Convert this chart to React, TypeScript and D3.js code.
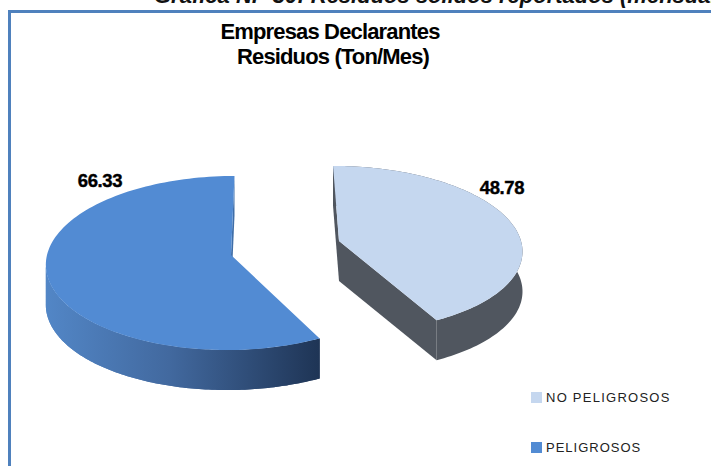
import React from "react";
import * as d3 from "d3";

const categories = ["PELIGROSOS", "NO PELIGROSOS"];
const values = [66.33, 48.78];
const valueLabels = ["66.33", "48.78"];
const titleLines = ["Empresas Declarantes", "Residuos (Ton/Mes)"];
const heading = "Gráfica N.° 30: Residuos sólidos reportados (mensual)";

const W = 711, H = 466, K = 0.092, DEPTH = 40;

type Sl = { cx: number; cy: number; rx: number; ry: number; sx: number; a0: number; a1: number };

function project(s: Sl, t: number, r = 1): [number, number] {
  const u = Math.sin(t) * r, v = -Math.cos(t) * r;
  const w = 1 / (1 - K * v);
  return [s.cx + (s.rx * u + s.sx * v) * w, s.cy + s.ry * v * w];
}
function arcPoints(s: Sl, a0: number, a1: number) {
  return d3.range(0, 121).map((i) => project(s, a0 + ((a1 - a0) * i) / 120));
}
const line = d3.line<[number, number]>().x((d) => d[0]).y((d) => d[1]);
const down = (p: [number, number]): [number, number] => [p[0], p[1] + DEPTH];

export default function App() {
  const total = d3.sum(values);
  const angle = d3.scaleLinear().domain([0, total]).range([0, 2 * Math.PI]);
  const blueAngle = angle(values[0]);
  const lightAngle = angle(values[1]);

  const blue: Sl = { cx: 231, cy: 255, rx: 184, ry: 86.3, sx: -3.8, a0: -blueAngle, a1: 0 };
  const light: Sl = { cx: 339, cy: 241, rx: 182, ry: 82, sx: 6.5, a0: 0, a1: lightAngle };

  const blueArc = arcPoints(blue, blue.a0, blue.a1);
  const lightArc = arcPoints(light, light.a0, light.a1);
  const blueTip = project(blue, 0, 0);
  const lightTip = project(light, 0, 0);

  const face = (arc: [number, number][], tip: [number, number]) => line([...arc, tip])! + "Z";
  const wall = (pts: [number, number][]) => line([...pts, ...pts.map(down).reverse()])! + "Z";

  const blueOuter = arcPoints(blue, -Math.PI / 2 - 0.1, blue.a0 < -Math.PI ? blue.a0 : -Math.PI).reverse();
  const blueFront = arcPoints(blue, blue.a0, -Math.PI / 2 - 0.1);

  return (
    <svg
      width={W}
      height={H}
      viewBox={`0 0 ${W} ${H}`}
      style={{ position: "absolute", left: 0, top: 0, background: "#fff" }}
    >
      <defs>
        <linearGradient id="wallGrad" gradientUnits="userSpaceOnUse" x1={47} x2={318} y1={0} y2={0}>
          <stop offset="0" stopColor="#5286c6" />
          <stop offset="0.45" stopColor="#42699f" />
          <stop offset="1" stopColor="#1f3556" />
        </linearGradient>
      </defs>

      <text x={154} y={3} fontFamily="Liberation Sans" fontWeight="bold" fontStyle="italic" fontSize={22} fill="#111">
        {heading}
      </text>
      <path d={`M9.5 466V11.5H711`} fill="none" stroke="#4f81bd" strokeWidth={3} />

      {titleLines.map((t, i) => (
        <text
          key={t}
          x={i === 0 ? 330 : 333}
          y={39 + i * 25}
          textAnchor="middle"
          fontFamily="Liberation Sans"
          fontWeight="bold"
          fontSize={22}
          letterSpacing={-0.85}
          fill="#000"
        >
          {t}
        </text>
      ))}

      {/* blue slice */}
      <path d={wall([project(blue, 0), blueTip])} fill="#3f6ea8" />
      <path d={wall(blueFront)} fill="url(#wallGrad)" />
      <path d={wall(blueOuter)} fill="url(#wallGrad)" />
      <path d={face(blueArc, blueTip)} fill="#528bd3" />

      {/* light slice */}
      <path d={wall([lightTip, project(light, 0)])} fill="#50565f" />
      <path d={wall(lightArc)} fill="#50565f" />
      <path d={wall([lightTip, project(light, lightAngle)])} fill="#50565f" />
      <path d={face(lightArc, lightTip)} fill="#c5d7ef" />

      <text x={100} y={187} textAnchor="middle" fontFamily="Liberation Sans" fontWeight="bold" fontSize={18.5} letterSpacing={-0.4} stroke="#000" strokeWidth={0.4} fill="#000">
        {valueLabels[0]}
      </text>
      <text x={502} y={194} textAnchor="middle" fontFamily="Liberation Sans" fontWeight="bold" fontSize={18.5} letterSpacing={-0.4} stroke="#000" strokeWidth={0.4} fill="#000">
        {valueLabels[1]}
      </text>

      <rect x={531} y={392} width={11} height={11} fill="#c5d7ef" />
      <text x={546} y={402} fontFamily="Liberation Sans" fontSize={13} letterSpacing={1.25} fill="#222">
        {categories[1]}
      </text>
      <rect x={531} y={442} width={11} height={11} fill="#528bd3" />
      <text x={546} y={452} fontFamily="Liberation Sans" fontSize={13} letterSpacing={1} fill="#222">
        {categories[0]}
      </text>
    </svg>
  );
}
